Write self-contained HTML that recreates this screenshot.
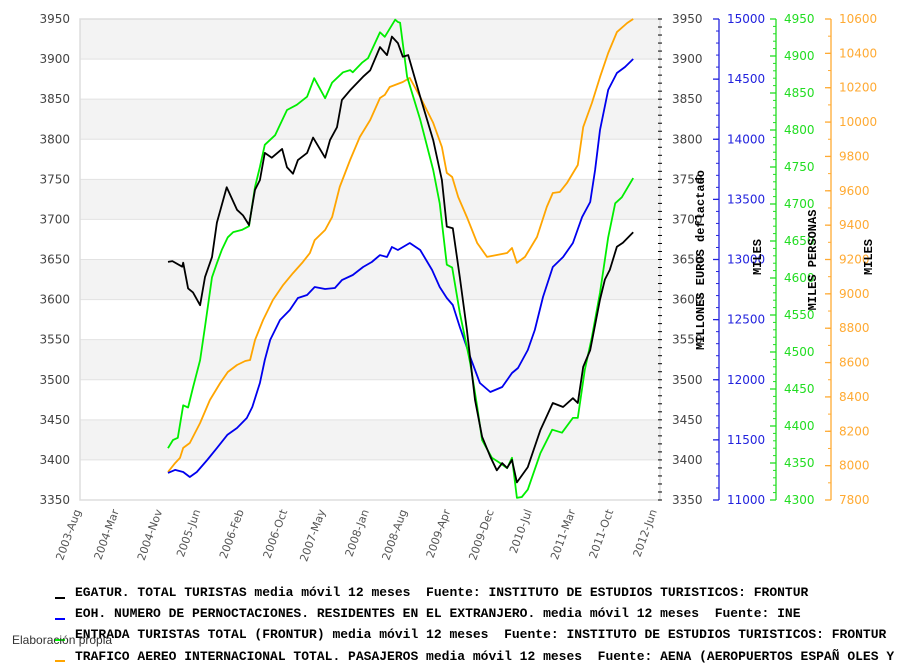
<!DOCTYPE html>
<html><head><meta charset="utf-8">
<style>
html,body{margin:0;padding:0;background:#fff;}
body{width:907px;height:667px;overflow:hidden;position:relative;font-family:"Liberation Sans","DejaVu Sans",sans-serif;}
svg{position:absolute;left:0;top:0;}
.leg{position:absolute;left:75px;font:bold 13px "Liberation Mono",monospace;white-space:pre;color:#000;line-height:14px;}
.sw{position:absolute;left:55px;width:10px;height:2px;}
</style></head>
<body>
<svg id="chart" width="907" height="667" xmlns="http://www.w3.org/2000/svg"></svg>
<div class="sw" style="top:597px;background:#000"></div>
<div class="leg" style="top:586px">EGATUR. TOTAL TURISTAS media móvil 12 meses  Fuente: INSTITUTO DE ESTUDIOS TURISTICOS: FRONTUR</div>
<div class="sw" style="top:618px;background:#00f"></div>
<div class="leg" style="top:607px">EOH. NUMERO DE PERNOCTACIONES. RESIDENTES EN EL EXTRANJERO. media móvil 12 meses  Fuente: INE</div>
<div class="sw" style="top:639px;background:#0f0"></div>
<div class="leg" style="top:628px">ENTRADA TURISTAS TOTAL (FRONTUR) media móvil 12 meses  Fuente: INSTITUTO DE ESTUDIOS TURISTICOS: FRONTUR</div>
<div class="sw" style="top:660px;background:#ffa500"></div>
<div class="leg" style="top:650px">TRAFICO AEREO INTERNACIONAL TOTAL. PASAJEROS media móvil 12 meses  Fuente: AENA (AEROPUERTOS ESPAÑ OLES Y</div>
<div style="position:absolute;left:12px;top:633px;font-size:12px;color:#333;">Elaboración propia</div>
<script>
// month index: months since 2003-Aug
const xLabels=["2003-Aug","2004-Mar","2004-Nov","2005-Jun","2006-Feb","2006-Oct","2007-May","2008-Jan","2008-Aug","2009-Apr","2009-Dec","2010-Jul","2011-Mar","2011-Oct","2012-Jun"];
const xTickMonths=[0,7,15,22,30,38,45,53,60,68,76,83,91,98,106];
const leftTicks=[3350,3400,3450,3500,3550,3600,3650,3700,3750,3800,3850,3900,3950];
const blueTicks=[11000,11500,12000,12500,13000,13500,14000,14500,15000];
const greenTicks=[4300,4350,4400,4450,4500,4550,4600,4650,4700,4750,4800,4850,4900,4950];
const orangeTicks=[7800,8000,8200,8400,8600,8800,9000,9200,9400,9600,9800,10000,10200,10400,10600];

const blackM=[16.2,17,18.8,19,19.9,20.8,22.1,23,24.3,25.2,27,28.9,30,31.1,32.2,33.1,34,35.3,37.2,38.1,39.2,40.1,41.8,42.9,45.1,46,47.3,48.2,49.7,52.1,53.4,55.2,56.5,57.4,58.5,59.4,60.4,62.6,65,66.6,67.5,68.6,69.9,71.2,72.7,74,75.5,76.7,77.7,78.6,79.5,80.4,82.4,84.7,87,88.9,90.7,91.6,92.6,93.9,95.7,96.6,97.5,98.8,99.9,101.8];
const blackV=[3647,3648,3641,3646,3614,3609,3593,3628,3653,3696,3740,3712,3705,3693,3737,3749,3783,3777,3788,3765,3757,3774,3783,3802,3777,3799,3815,3849,3861,3878,3886,3915,3905,3928,3920,3903,3905,3853,3799,3749,3691,3689,3628,3562,3475,3429,3404,3387,3396,3390,3400,3372,3391,3437,3471,3466,3477,3471,3516,3537,3600,3625,3637,3666,3671,3684];

const blueM=[16.2,17.5,19,20.2,21.5,23.4,25.2,27.1,28.9,30.7,31.7,33.1,34,35,36.8,38.6,40.1,41.8,43.2,45.1,46.9,48.2,50.2,52.1,53.7,55.2,56.5,57.4,58.5,60.7,62.6,64.8,66.2,67.5,68.6,69.9,71.8,73.6,75.5,77.7,79.5,80.6,82.4,83.7,85.2,87,88.9,90.7,92.4,93.9,94.8,95.7,97.2,98.8,100.3,101.8];
const blueV=[11225,11250,11233,11191,11233,11333,11432,11541,11599,11682,11773,11973,12164,12331,12497,12580,12680,12705,12771,12755,12763,12829,12871,12938,12979,13037,13021,13104,13079,13137,13079,12913,12771,12680,12622,12439,12189,11973,11898,11940,12056,12098,12247,12414,12688,12938,13021,13137,13353,13478,13744,14077,14410,14551,14601,14667];

const greenM=[16.2,17.1,18,19,19.9,20.8,22.1,23,24.3,25.2,26.1,27.2,28.2,29.8,31.1,32.2,33.1,34,35.9,38.1,39.9,41.8,43.1,45.1,46.4,48.4,49.7,50.2,51.9,53,55.2,56.1,58,58.5,58.9,60.2,62.6,65,66.2,67.5,68.5,69.9,71.8,73.1,74,75.8,77.3,78.6,79.5,80.4,81.3,82.4,84.7,86.9,88.7,90.7,91.6,92.9,94.2,95.7,97.2,98.5,99.7,101.8];
const greenV=[4370,4381,4384,4428,4425,4452,4489,4534,4601,4620,4638,4655,4662,4665,4670,4723,4750,4780,4793,4827,4834,4845,4870,4843,4864,4878,4881,4878,4891,4897,4932,4926,4949,4946,4945,4872,4814,4746,4701,4618,4614,4553,4485,4426,4381,4357,4350,4343,4357,4303,4304,4314,4363,4395,4391,4411,4411,4476,4520,4580,4655,4701,4709,4735];

const orangeM=[16.2,17.5,18.4,19,20.2,22.1,23.9,25.8,27.2,28.9,30.4,31.3,32.2,33.7,35.5,37.4,39.2,41,42.3,43.2,45.1,46.4,47.8,49.7,51.5,53.4,55.2,56.1,57,59.4,60.7,62.6,65,66.6,67.5,68.5,69.6,71.2,73.1,74.9,76.7,78.6,79.5,80.4,81.9,84.1,85.9,87,88.3,89.6,91.6,92.6,94.2,95.7,97.2,98.8,100.7,101.8];
const orangeV=[7963,8015,8045,8103,8132,8248,8382,8481,8545,8586,8609,8615,8731,8848,8964,9052,9121,9185,9238,9313,9372,9447,9622,9779,9913,10012,10140,10158,10204,10233,10257,10146,9995,9855,9704,9680,9564,9447,9296,9215,9226,9238,9267,9180,9215,9331,9506,9587,9593,9645,9750,9971,10111,10262,10402,10524,10577,10600];

const NS="http://www.w3.org/2000/svg";
const svg=document.getElementById('chart');
const PL=80,PR=660,PT=19,PB=500;
const xM=m=>PL+m*(656-PL)/106;
const yScale=(lo,hi)=>v=>PB-(v-lo)/(hi-lo)*(PB-PT);
const yL=yScale(3350,3950),yB=yScale(11000,15000),yG=yScale(4300,4950),yO=yScale(7800,10600);
function el(tag,attrs,parent){const e=document.createElementNS(NS,tag);for(const k in attrs)e.setAttribute(k,attrs[k]);(parent||svg).appendChild(e);return e;}

for(let i=0;i<leftTicks.length-1;i++){
  const lo=leftTicks[i],hi=leftTicks[i+1];
  const r=el('rect',{x:PL,y:yL(hi),width:PR-PL,height:yL(lo)-yL(hi),fill:((leftTicks.length-2-i)%2===0)?'#f3f3f3':'#fff'});
  
  
}
for(const v of leftTicks){
  const g=el('line',{x1:PL,x2:PR,y1:yL(v),y2:yL(v),stroke:'#e2e2e2','stroke-width':1});
  
  
}
const frame=el('rect',{x:PL,y:PT,width:PR-PL,height:PB-PT,fill:'none',stroke:'#ddd','stroke-width':1.5});



for(const v of leftTicks){
  const t=el('text',{x:70,y:yL(v)+4,'text-anchor':'end','font-size':12,fill:'#444','font-family':'DejaVu Sans, sans-serif'});
  t.textContent=v;
  
  
}
for(let v=3350;v<=3950;v+=10){
  const k=el('line',{x1:PR-2,x2:PR+2,y1:yL(v),y2:yL(v),stroke:'#000','stroke-width':1});
  
  
}
for(const v of leftTicks){
  const t=el('text',{x:672,y:yL(v)+4,'font-size':12,fill:'#444','font-family':'DejaVu Sans, sans-serif'});
  t.textContent=v;
  
  
}
function sideAxis(ax,ticks,minor,scale,color,name){
  const l=el('line',{x1:ax,x2:ax,y1:PT,y2:PB,stroke:color,'stroke-width':1.3});
  
  
  const lo=ticks[0],hi=ticks[ticks.length-1];
  for(let v=lo;v<=hi+1e-6;v+=minor){
    const m=el('line',{x1:ax-3,x2:ax,y1:scale(v),y2:scale(v),stroke:color,'stroke-width':1});
    
    
  }
  for(const v of ticks){
    const m=el('line',{x1:ax-6,x2:ax,y1:scale(v),y2:scale(v),stroke:color,'stroke-width':1.3});
    
    
    const t=el('text',{x:ax+8,y:scale(v)+4,'font-size':12,fill:color,'font-family':'DejaVu Sans, sans-serif'});
    t.textContent=v;
    
    
  }
}
sideAxis(719,blueTicks,100,yB,'#2222dd','blue');
sideAxis(776,greenTicks,10,yG,'#22dd22','green');
sideAxis(831,orangeTicks,100,yO,'#ffaa33','orange');
function axTitle(x,y,txt,name){
  const t=el('text',{x:x,y:y,transform:`rotate(-90 ${x} ${y})`,'text-anchor':'middle','font-size':12,'font-weight':'bold',fill:'#000','font-family':'Liberation Mono, monospace'});
  t.textContent=txt;
  
  
}
axTitle(704,260,'MILLONES EUROS deflactado','y-axis-title-egatur');
axTitle(761,257,'MILES','y-axis-title-eoh');
axTitle(816,260,'MILES PERSONAS','y-axis-title-frontur');
axTitle(872,257,'MILES','y-axis-title-aena');

xLabels.forEach((s,i)=>{
  const x=xM(xTickMonths[i])+1,y=511;
  const t=el('text',{x:x,y:y,transform:`rotate(-70 ${x} ${y})`,'text-anchor':'end','font-size':11,fill:'#555','font-family':'DejaVu Sans, sans-serif'});
  t.textContent=s;
  
  
});

function series(ms,vs,scale,color,name){
  const d=ms.map((m,i)=>(i?'L':'M')+xM(m).toFixed(1)+' '+scale(vs[i]).toFixed(1)).join(' ');
  const p=el('path',{d:d,fill:'none',stroke:color,'stroke-width':1.8,'stroke-linejoin':'round'});
  
  
}
series(orangeM,orangeV,yO,'#ffa500','line-aena');
series(blueM,blueV,yB,'#0000ee','line-eoh');
series(greenM,greenV,yG,'#00ee00','line-frontur');
series(blackM,blackV,yL,'#000','line-egatur');
</script>
</body></html>
